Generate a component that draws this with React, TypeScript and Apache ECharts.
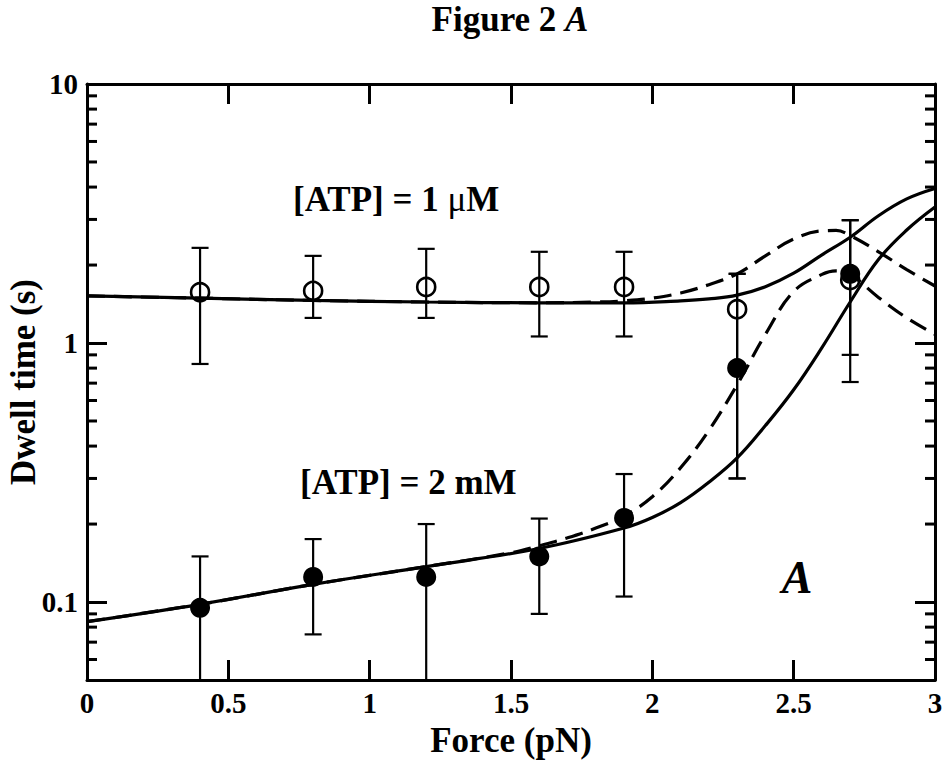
import React, { useEffect, useRef } from "react";
import * as echarts from "echarts";

const FONT = "'Liberation Serif', 'Times New Roman', serif";

// Measured points
const FORCE_POINTS = [0.4, 0.8, 1.2, 1.6, 1.9, 2.3, 2.7];
const DWELL_1UM = [1.57, 1.59, 1.645, 1.645, 1.645, 1.35, 1.75];
const ERR_LOW_1UM = [0.83, 1.25, 1.25, 1.06, 1.06, 0.3, 0.9];
const ERR_HIGH_1UM = [2.33, 2.17, 2.31, 2.25, 2.25, 1.85, 2.98];
const DWELL_2MM = [0.095, 0.125, 0.125, 0.15, 0.211, 0.8, 1.85];
const ERR_LOW_2MM = [0.045, 0.075, 0.045, 0.09, 0.105, 0.3, 0.707];
const ERR_HIGH_2MM = [0.15, 0.175, 0.2, 0.21, 0.312, 1.85, 2.98];

// Model curves
const FIT_1UM_SOLID_X = [0, 0.4, 0.8, 1.2, 1.6, 1.9, 2.1, 2.2, 2.3, 2.4, 2.5, 2.6, 2.7, 2.8, 2.9, 3.0];
const FIT_1UM_SOLID_Y = [1.52, 1.49, 1.46, 1.44, 1.43, 1.43, 1.455, 1.48, 1.53, 1.65, 1.86, 2.19, 2.56, 3.1, 3.6, 3.95];
const FIT_1UM_DASH_X = [0, 0.4, 0.8, 1.2, 1.6, 1.8, 1.9, 2.0, 2.1, 2.2, 2.3, 2.4, 2.5, 2.6, 2.65, 2.7, 2.8, 2.9, 3.0];
const FIT_1UM_DASH_Y = [1.52, 1.49, 1.46, 1.44, 1.43, 1.44, 1.455, 1.49, 1.56, 1.68, 1.85, 2.17, 2.52, 2.71, 2.72, 2.6, 2.25, 1.92, 1.66];
const FIT_2MM_SOLID_X = [0, 0.4, 0.8, 1.2, 1.6, 1.9, 2.0, 2.1, 2.2, 2.3, 2.4, 2.5, 2.6, 2.7, 2.8, 2.9, 3.0];
const FIT_2MM_SOLID_Y = [0.084, 0.098, 0.117, 0.137, 0.161, 0.193, 0.212, 0.242, 0.29, 0.36, 0.48, 0.66, 0.96, 1.44, 2.1, 2.73, 3.35];
const FIT_2MM_DASH_X = [0, 0.4, 0.8, 1.2, 1.5, 1.6, 1.7, 1.8, 1.9, 2.0, 2.1, 2.2, 2.3, 2.4, 2.5, 2.6, 2.65, 2.7, 2.8, 2.9, 3.0];
const FIT_2MM_DASH_Y = [0.084, 0.098, 0.117, 0.137, 0.155, 0.165, 0.177, 0.193, 0.215, 0.255, 0.33, 0.46, 0.69, 1.08, 1.58, 1.84, 1.9, 1.84, 1.5, 1.25, 1.08];

// Axis ticks
const Y_MAJOR_LABELS = [0.1, 1, 10];
const Y_MINOR_TICKS = [0.06, 0.07, 0.08, 0.09, 0.2, 0.3, 0.4, 0.5, 0.6, 0.7, 0.8, 0.9, 2, 3, 4, 5, 6, 7, 8, 9];

const zip = (xs: number[], ys: number[]) => xs.map((x, i) => [x, ys[i]]);

export default function App() {
  const ref = useRef<HTMLDivElement>(null);

  useEffect(() => {
    if (!ref.current) return;
    const chart = echarts.init(ref.current, undefined, { renderer: "svg" });

    const axisLine = { show: true, onZero: false, lineStyle: { color: "#000", width: 3 } };
    const tickLabel = { fontSize: 29, fontWeight: "bold", fontFamily: FONT, color: "#000" };
    const yFormatter = (v: number) => {
      const hit = Y_MAJOR_LABELS.find((m) => Math.abs(Math.log10(v) - Math.log10(m)) < 1e-6);
      return hit === undefined ? "" : String(hit);
    };

    const errorRender = (params: any, api: any) => {
      const x = api.value(0);
      const lo = api.value(1);
      const hi = api.value(2);
      const pHi = api.coord([x, hi]);
      const pLo = api.coord([x, lo]);
      const w = 8.5;
      const st = { stroke: "#000", lineWidth: 2.2 };
      return {
        type: "group",
        children: [
          { type: "line", shape: { x1: pHi[0], y1: pHi[1], x2: pLo[0], y2: pLo[1] }, style: st },
          { type: "line", shape: { x1: pHi[0] - w, y1: pHi[1], x2: pHi[0] + w, y2: pHi[1] }, style: st },
          { type: "line", shape: { x1: pLo[0] - w, y1: pLo[1], x2: pLo[0] + w, y2: pLo[1] }, style: st },
        ],
      };
    };

    const minorTickRender = (params: any, api: any) => {
      const cs = params.coordSys;
      const y = api.coord([0, api.value(1)])[1];
      const st = { stroke: "#000", lineWidth: 3 };
      return {
        type: "group",
        children: [
          { type: "line", shape: { x1: cs.x, y1: y, x2: cs.x + 10, y2: y }, style: st },
          { type: "line", shape: { x1: cs.x + cs.width - 10, y1: y, x2: cs.x + cs.width, y2: y }, style: st },
        ],
      };
    };

    const curve = (xs: number[], ys: number[], dashed: boolean) => ({
      type: "line",
      data: zip(xs, ys),
      showSymbol: false,
      symbol: "none",
      smooth: 0.4,
      clip: true,
      lineStyle: { color: "#000", width: 3.2, type: dashed ? [18, 9] : "solid" },
      z: 2,
    });

    const option: any = {
      animation: false,
      backgroundColor: "#fff",
      grid: { left: 87, right: 10, top: 84, bottom: 86, containLabel: false, outerBoundsMode: "none" },
      xAxis: [
        {
          type: "value",
          min: 0,
          max: 3,
          interval: 0.5,
          position: "bottom",
          axisLine,
          axisTick: { inside: true, length: 20, lineStyle: { color: "#000", width: 3 } },
          axisLabel: { ...tickLabel, margin: 8 },
          splitLine: { show: false },
          name: "Force (pN)",
          nameLocation: "middle",
          nameGap: 43,
          nameTextStyle: { fontSize: 35, fontWeight: "bold", fontFamily: FONT, color: "#000" },
        },
        {
          type: "value",
          min: 0,
          max: 3,
          interval: 0.5,
          position: "top",
          axisLine,
          axisTick: { inside: true, length: 20, lineStyle: { color: "#000", width: 3 } },
          axisLabel: { show: false },
          splitLine: { show: false },
        },
      ],
      yAxis: [
        {
          type: "log",
          logBase: 10,
          min: 0.05,
          max: 10,
          position: "left",
          axisLine,
          axisTick: { inside: true, length: 20, lineStyle: { color: "#000", width: 3 } },
          axisLabel: { ...tickLabel, margin: 9, formatter: yFormatter },
          splitLine: { show: false },
          minorTick: { show: false },
          name: "Dwell time (s)",
          nameLocation: "middle",
          nameGap: 46,
          nameMoveOverlap: false,
          nameTextStyle: { fontSize: 35, fontWeight: "bold", fontFamily: FONT, color: "#000" },
        },
        {
          type: "log",
          logBase: 10,
          min: 0.05,
          max: 10,
          position: "right",
          axisLine,
          axisTick: { inside: true, length: 20, lineStyle: { color: "#000", width: 3 } },
          axisLabel: { show: false },
          splitLine: { show: false },
        },
      ],
      series: [
        {
          type: "custom",
          data: Y_MINOR_TICKS.map((v) => [0, v]),
          encode: { x: 0, y: 1 },
          renderItem: minorTickRender,
          silent: true,
          z: 1,
        },
        curve(FIT_1UM_SOLID_X, FIT_1UM_SOLID_Y, false),
        curve(FIT_1UM_DASH_X, FIT_1UM_DASH_Y, true),
        curve(FIT_2MM_SOLID_X, FIT_2MM_SOLID_Y, false),
        curve(FIT_2MM_DASH_X, FIT_2MM_DASH_Y, true),
        {
          type: "custom",
          data: FORCE_POINTS.map((x, i) => [x, ERR_LOW_1UM[i], ERR_HIGH_1UM[i]]),
          encode: { x: 0, y: [1, 2] },
          renderItem: errorRender,
          clip: true,
          z: 3,
        },
        {
          type: "custom",
          data: FORCE_POINTS.map((x, i) => [x, ERR_LOW_2MM[i], ERR_HIGH_2MM[i]]),
          encode: { x: 0, y: [1, 2] },
          renderItem: errorRender,
          clip: true,
          z: 3,
        },
        {
          type: "scatter",
          data: zip(FORCE_POINTS, DWELL_1UM),
          symbol: "circle",
          symbolSize: 18,
          itemStyle: { color: "rgba(0,0,0,0)", borderColor: "#000", borderWidth: 2.6, opacity: 1 },
          z: 4,
        },
        {
          type: "scatter",
          data: zip(FORCE_POINTS, DWELL_2MM),
          symbol: "circle",
          symbolSize: 20,
          itemStyle: { color: "#000", opacity: 1 },
          z: 5,
        },
      ],
      graphic: [
        {
          type: "text",
          x: 510,
          y: 19,
          style: {
            text: "{b|Figure 2 }{i|A}",
            align: "center",
            verticalAlign: "middle",
            textAlign: "center",
            textVerticalAlign: "middle",
            rich: {
              b: { fontSize: 35, fontWeight: "bold", fontFamily: FONT, fill: "#000", color: "#000" },
              i: { fontSize: 35, fontWeight: "bold", fontStyle: "italic", fontFamily: FONT, fill: "#000", color: "#000" },
            },
          },
        },
        {
          type: "text",
          x: 293,
          y: 199,
          style: {
            text: "{b|[ATP] = 1 }{r|μ}{b|M}",
            align: "left",
            verticalAlign: "middle",
            textAlign: "left",
            textVerticalAlign: "middle",
            rich: {
              b: { fontSize: 35, fontWeight: "bold", fontFamily: FONT, fill: "#000", color: "#000" },
              r: { fontSize: 35, fontWeight: "normal", fontFamily: FONT, fill: "#000", color: "#000" },
            },
          },
        },
        {
          type: "text",
          x: 300,
          y: 482,
          style: {
            text: "[ATP] = 2 mM",
            fontSize: 35,
            fontWeight: "bold",
            fontFamily: FONT,
            fill: "#000",
            align: "left",
            verticalAlign: "middle",
            textAlign: "left",
            textVerticalAlign: "middle",
          },
        },
        {
          type: "text",
          x: 797,
          y: 577,
          style: {
            text: "A",
            fontSize: 46,
            fontWeight: "bold",
            fontStyle: "italic",
            fontFamily: FONT,
            fill: "#000",
            align: "center",
            verticalAlign: "middle",
            textAlign: "center",
            textVerticalAlign: "middle",
          },
        },
      ],
    };

    chart.setOption(option);
    return () => chart.dispose();
  }, []);

  return (
    <div
      ref={ref}
      style={{ position: "absolute", left: 0, top: 0, width: 945, height: 766, background: "#fff" }}
    />
  );
}
